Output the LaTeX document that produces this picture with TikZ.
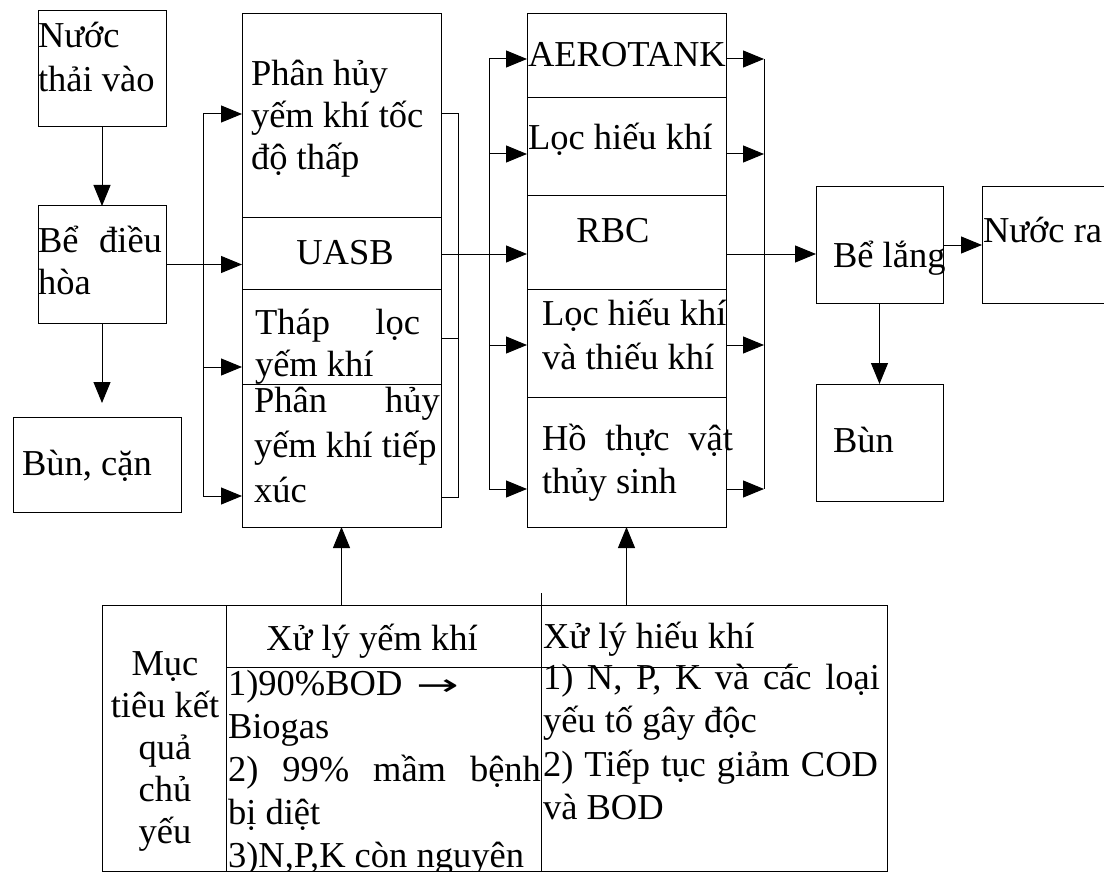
\documentclass[tikz,border=0pt]{standalone}
\usepackage{fontspec}
\setmainfont{Liberation Serif}
\newfontfamily\arrfont{DejaVu Sans}
\usetikzlibrary{arrows.meta}
\newcommand\myfs{\fontsize{36.5}{43}\selectfont}
\begin{document}
\begin{tikzpicture}[x=1pt,y=-1pt,line width=1pt,
  box/.style={draw,inner sep=0pt,outer sep=0pt,anchor=north west,line width=1pt},
  txt/.style={inner sep=0pt,outer sep=0pt,anchor=base west,font=\myfs},
  ctxt/.style={inner sep=0pt,outer sep=0pt,anchor=base,font=\myfs},
  arr/.style={-{Triangle[length=21pt,width=17pt]}}]
\useasboundingbox (0,0) rectangle (1104,872);
\clip (0,0) rectangle (1104,872);
% boxes
\node[box,minimum width=128pt,minimum height=116pt] (in) at (38,11) {};
\node[box,minimum width=128pt,minimum height=117pt] (dh) at (38,206) {};
\node[box,minimum width=168pt,minimum height=95pt] (bc) at (13,417) {};
\node[box,minimum width=199pt,minimum height=204pt] (ana1) at (242,14) {};
\node[box,minimum width=199pt,minimum height=71pt] (ana2) at (242,218) {};
\node[box,minimum width=199pt,minimum height=95pt] (ana3) at (242,289) {};
\node[box,minimum width=199pt,minimum height=143pt] (ana4) at (242,384) {};
\node[box,minimum width=199pt,minimum height=84pt] (aer1) at (527,14) {};
\node[box,minimum width=199pt,minimum height=98pt] (aer2) at (527,98) {};
\node[box,minimum width=199pt,minimum height=93pt] (aer3) at (527,196) {};
\node[box,minimum width=199pt,minimum height=108pt] (aer4) at (527,289) {};
\node[box,minimum width=199pt,minimum height=130pt] (aer5) at (527,397) {};
\node[box,minimum width=127pt,minimum height=116pt] (bl) at (816,187) {};
\node[box,minimum width=140pt,minimum height=116pt] (nr) at (982,187) {};
\node[box,minimum width=127pt,minimum height=117pt] (bun) at (816,384) {};
\node[box,minimum width=785pt,minimum height=266pt] (tbl) at (102,605) {};
\draw (226,605) -- (226,871);
\draw (541,593) -- (541,871);
\draw (226,667) -- (798,667);
% texts
\node[txt] (tin1) at (38,48) {Nước};
\node[txt] (tin2) at (38,92) {thải vào};
\node[txt] (tdh1) at (38,252) {\makebox[124pt][s]{Bể điều}};
\node[txt] (tdh2) at (38,294) {hòa};
\node[txt] (tbc) at (22,475) {Bùn, cặn};
\node[txt] (ta11) at (251,86) {Phân hủy};
\node[txt] (ta12) at (251,128) {yếm khí tốc};
\node[txt] (ta13) at (251,170) {độ thấp};
\node[ctxt] (ta2) at (345,265) {UASB};
\node[txt] (ta31) at (255,334) {\makebox[165pt][s]{Tháp lọc}};
\node[txt] (ta32) at (255,376) {yếm khí};
\node[txt] (ta41) at (254,412) {\makebox[186pt][s]{Phân hủy}};
\node[txt] (ta42) at (254,457) {yếm khí tiếp};
\node[txt] (ta43) at (254,502) {xúc};
\node[txt] (te1) at (528,67) {AEROTANK};
\node[txt] (te2) at (528,150) {Lọc hiếu khí};
\node[ctxt] (te3) at (613,243) {RBC};
\node[txt] (te41) at (542,325) {Lọc hiếu khí};
\node[txt] (te42) at (542,369) {và thiếu khí};
\node[txt] (te51) at (542,450) {\makebox[191pt][s]{Hồ thực vật}};
\node[txt] (te52) at (542,493) {thủy sinh};
\node[txt] (tbl1) at (833,267) {Bể lắng};
\node[txt] (tnr) at (983,243) {Nước ra};
\node[txt] (tbun) at (833,452) {Bùn};
% table texts
\node[ctxt] (c11) at (165,675) {Mục};
\node[ctxt] (c12) at (165,717) {tiêu kết};
\node[ctxt] (c13) at (165,759) {quả};
\node[ctxt] (c14) at (165,801) {chủ};
\node[ctxt] (c15) at (165,843) {yếu};
\node[ctxt] (c2h) at (372,650) {Xử lý yếm khí};
\node[txt] (c21) at (228,695) {1)90\%BOD\hspace{14pt}{\arrfont\fontsize{30}{36}\selectfont\scalebox{1.7}[1]{→}}};
\node[txt] (c22) at (228,738) {Biogas};
\node[txt] (c23) at (228,781) {\makebox[313pt][s]{2) 99\% mầm bệnh}};
\node[txt] (c24) at (228,824) {bị diệt};
\node[txt] (c25) at (228,867) {3)N,P,K còn nguyên};
\node[txt] (c3h) at (543,648) {Xử lý hiếu khí};
\node[txt] (c31) at (543,689) {\makebox[337pt][s]{1) N, P, K và các loại}};
\node[txt] (c32) at (543,732) {yếu tố gây độc};
\node[txt] (c33) at (543,776) {\makebox[335pt][s]{2) Tiếp tục giảm COD}};
\node[txt] (c34) at (543,819) {và BOD};
% connectors
\draw[arr] (in.south) -- (dh.north);
\coordinate (bcTip) at (102,403);
\draw[arr] (dh.south) -- (bcTip);
\coordinate (la1) at (203,114);
\coordinate (la3) at (203,367);
\coordinate (la4) at (203,496);
\draw (la1) -- (la4);
\draw[arr] (la1) -- (la1 -| ana1.west);
\draw[arr] (dh.east) -- (dh.east -| ana2.west);
\draw[arr] (la3) -- (la3 -| ana3.west);
\draw[arr] (la4) -- (la4 -| ana4.west);
\coordinate (ra1) at (458,114);
\coordinate (ra3) at (458,338);
\coordinate (ra4) at (458,497);
\draw (ra1 -| ana1.east) -- (ra1) -- (ra4) -- (ra4 -| ana4.east);
\draw (ra3) -- (ra3 -| ana3.east);
\coordinate (rbcA) at (527,254);
\draw[arr] (rbcA -| ana2.east) -- (rbcA);
\coordinate (lb1) at (489,59);
\coordinate (lb2) at (489,154);
\coordinate (lb4) at (489,345);
\coordinate (lb5) at (489,489);
\draw (lb1) -- (lb5);
\draw[arr] (lb1) -- (lb1 -| aer1.west);
\draw[arr] (lb2) -- (lb2 -| aer2.west);
\draw[arr] (lb4) -- (lb4 -| aer4.west);
\draw[arr] (lb5) -- (lb5 -| aer5.west);
\coordinate (rb1) at (764,59);
\coordinate (rb2) at (764,154);
\coordinate (rb4) at (764,345);
\coordinate (rb5) at (764,489);
\draw (rb1) -- (rb5);
\draw[arr] (rb1 -| aer1.east) -- (rb1);
\draw[arr] (rb2 -| aer2.east) -- (rb2);
\draw[arr] (rb4 -| aer4.east) -- (rb4);
\draw[arr] (rb5 -| aer5.east) -- (rb5);
\coordinate (blIn) at (816,254);
\draw[arr] (blIn -| aer3.east) -- (blIn);
\draw[arr] (bl.east) -- (bl.east -| nr.west);
\draw[arr] (bl.south) -- (bun.north);
\draw[arr] (tbl.north -| ana4.south) -- (ana4.south);
\draw[arr] (tbl.north -| aer5.south) -- (aer5.south);
\end{tikzpicture}
\end{document}
